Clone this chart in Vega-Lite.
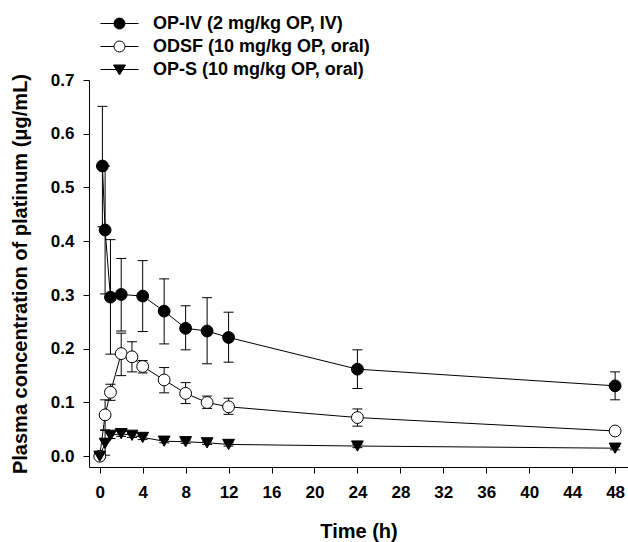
{
  "$schema": "https://vega.github.io/schema/vega-lite/v6.json",
  "width": 539,
  "height": 387,
  "autosize": {"type": "none"},
  "padding": {"left": 89, "top": 80, "right": 0, "bottom": 75},
  "background": "white",
  "data": {
    "values": [
      {"series": "OP-IV (2 mg/kg OP, IV)", "t": 0.25, "v": 0.540, "lo": 0.427, "hi": 0.651},
      {"series": "OP-IV (2 mg/kg OP, IV)", "t": 0.5, "v": 0.421, "lo": 0.302, "hi": 0.540},
      {"series": "OP-IV (2 mg/kg OP, IV)", "t": 1, "v": 0.296, "lo": 0.190, "hi": 0.403},
      {"series": "OP-IV (2 mg/kg OP, IV)", "t": 2, "v": 0.301, "lo": 0.233, "hi": 0.368},
      {"series": "OP-IV (2 mg/kg OP, IV)", "t": 4, "v": 0.298, "lo": 0.232, "hi": 0.364},
      {"series": "OP-IV (2 mg/kg OP, IV)", "t": 6, "v": 0.270, "lo": 0.209, "hi": 0.330},
      {"series": "OP-IV (2 mg/kg OP, IV)", "t": 8, "v": 0.238, "lo": 0.198, "hi": 0.280},
      {"series": "OP-IV (2 mg/kg OP, IV)", "t": 10, "v": 0.233, "lo": 0.172, "hi": 0.295},
      {"series": "OP-IV (2 mg/kg OP, IV)", "t": 12, "v": 0.221, "lo": 0.175, "hi": 0.268},
      {"series": "OP-IV (2 mg/kg OP, IV)", "t": 24, "v": 0.162, "lo": 0.126, "hi": 0.198},
      {"series": "OP-IV (2 mg/kg OP, IV)", "t": 48, "v": 0.131, "lo": 0.105, "hi": 0.157},
      {"series": "ODSF (10 mg/kg OP, oral)", "t": 0, "v": 0.0, "lo": 0.0, "hi": 0.0},
      {"series": "ODSF (10 mg/kg OP, oral)", "t": 0.5, "v": 0.077, "lo": 0.049, "hi": 0.105},
      {"series": "ODSF (10 mg/kg OP, oral)", "t": 1, "v": 0.119, "lo": 0.104, "hi": 0.134},
      {"series": "ODSF (10 mg/kg OP, oral)", "t": 2, "v": 0.191, "lo": 0.150, "hi": 0.229},
      {"series": "ODSF (10 mg/kg OP, oral)", "t": 3, "v": 0.185, "lo": 0.157, "hi": 0.213},
      {"series": "ODSF (10 mg/kg OP, oral)", "t": 4, "v": 0.167, "lo": 0.155, "hi": 0.178},
      {"series": "ODSF (10 mg/kg OP, oral)", "t": 6, "v": 0.142, "lo": 0.118, "hi": 0.165},
      {"series": "ODSF (10 mg/kg OP, oral)", "t": 8, "v": 0.117, "lo": 0.098, "hi": 0.137},
      {"series": "ODSF (10 mg/kg OP, oral)", "t": 10, "v": 0.100, "lo": 0.089, "hi": 0.112},
      {"series": "ODSF (10 mg/kg OP, oral)", "t": 12, "v": 0.092, "lo": 0.078, "hi": 0.108},
      {"series": "ODSF (10 mg/kg OP, oral)", "t": 24, "v": 0.072, "lo": 0.056, "hi": 0.088},
      {"series": "ODSF (10 mg/kg OP, oral)", "t": 48, "v": 0.047, "lo": 0.042, "hi": 0.052},
      {"series": "OP-S (10 mg/kg OP, oral)", "t": 0, "v": 0.0, "lo": 0.0, "hi": 0.0},
      {"series": "OP-S (10 mg/kg OP, oral)", "t": 0.5, "v": 0.024, "lo": 0.002, "hi": 0.048},
      {"series": "OP-S (10 mg/kg OP, oral)", "t": 1, "v": 0.039, "lo": 0.033, "hi": 0.045},
      {"series": "OP-S (10 mg/kg OP, oral)", "t": 2, "v": 0.042, "lo": 0.037, "hi": 0.047},
      {"series": "OP-S (10 mg/kg OP, oral)", "t": 3, "v": 0.039, "lo": 0.035, "hi": 0.043},
      {"series": "OP-S (10 mg/kg OP, oral)", "t": 4, "v": 0.035, "lo": 0.031, "hi": 0.039},
      {"series": "OP-S (10 mg/kg OP, oral)", "t": 6, "v": 0.028, "lo": 0.025, "hi": 0.031},
      {"series": "OP-S (10 mg/kg OP, oral)", "t": 8, "v": 0.027, "lo": 0.024, "hi": 0.030},
      {"series": "OP-S (10 mg/kg OP, oral)", "t": 10, "v": 0.025, "lo": 0.022, "hi": 0.028},
      {"series": "OP-S (10 mg/kg OP, oral)", "t": 12, "v": 0.022, "lo": 0.019, "hi": 0.025},
      {"series": "OP-S (10 mg/kg OP, oral)", "t": 24, "v": 0.019, "lo": 0.016, "hi": 0.022},
      {"series": "OP-S (10 mg/kg OP, oral)", "t": 48, "v": 0.015, "lo": 0.012, "hi": 0.018}
    ]
  },
  "layer": [
    {
      "mark": {"type": "rule", "color": "black", "strokeWidth": 1},
      "encoding": {
        "x": {"field": "t", "type": "quantitative", "scale": {"domain": [-1, 49.2], "nice": false, "zero": false},
              "axis": {"values": [0,4,8,12,16,20,24,28,32,36,40,44,48], "title": "Time (h)", "labelFlush": false, "labelPadding": 11, "titlePadding": 21}},
        "y": {"field": "lo", "type": "quantitative", "scale": {"domain": [-0.02, 0.7], "nice": false, "zero": false},
              "axis": {"values": [0,0.1,0.2,0.3,0.4,0.5,0.6,0.7], "format": ".1f", "title": "Plasma concentration of platinum (μg/mL)", "labelPadding": 9, "titlePadding": 20}},
        "y2": {"field": "hi"}
      }
    },
    {
      "mark": {"type": "tick", "orient": "horizontal", "color": "black", "size": 10, "thickness": 1, "opacity": 1},
      "encoding": {
        "x": {"field": "t", "type": "quantitative"},
        "y": {"field": "lo", "type": "quantitative"}
      }
    },
    {
      "mark": {"type": "tick", "orient": "horizontal", "color": "black", "size": 10, "thickness": 1, "opacity": 1},
      "encoding": {
        "x": {"field": "t", "type": "quantitative"},
        "y": {"field": "hi", "type": "quantitative"}
      }
    },
    {
      "mark": {"type": "line", "color": "black", "strokeWidth": 1},
      "encoding": {
        "x": {"field": "t", "type": "quantitative"},
        "y": {"field": "v", "type": "quantitative"},
        "detail": {"field": "series"}
      }
    },
    {
      "mark": {"type": "point", "filled": true, "stroke": "black", "strokeWidth": 1, "opacity": 1, "size": 140},
      "encoding": {
        "x": {"field": "t", "type": "quantitative"},
        "y": {"field": "v", "type": "quantitative"},
        "fill": {
          "field": "series", "type": "nominal",
          "scale": {"domain": ["OP-IV (2 mg/kg OP, IV)", "ODSF (10 mg/kg OP, oral)", "OP-S (10 mg/kg OP, oral)"], "range": ["black", "white", "black"]},
          "legend": {
            "orient": "none", "legendX": 20, "legendY": -67, "title": null, "padding": 0,
            "labelFont": "Liberation Sans", "labelFontSize": 18, "labelFontWeight": "bold", "labelColor": "black", "labelLimit": 0,
            "symbolSize": 400, "labelOffset": 23, "rowPadding": 3,
            "symbolStrokeColor": "black", "symbolStrokeWidth": 1,
            "encoding": {
              "symbols": {
                "shape": {"value": {"expr": "datum.value === 'OP-S (10 mg/kg OP, oral)' ? 'M-1.9,0L1.9,0M-0.6,-0.45L0.6,-0.45L0,0.55Z' : 'M-1.9,0L-0.55,0M0.55,0A0.55,0.55,0,1,1,-0.55,0A0.55,0.55,0,1,1,0.55,0M0.55,0L1.9,0'"}},
                "stroke": {"value": "black"},
                "strokeWidth": {"value": 1}
              }
            }
          }
        },
        "shape": {
          "field": "series", "type": "nominal",
          "scale": {"domain": ["ODSF (10 mg/kg OP, oral)", "OP-IV (2 mg/kg OP, IV)", "OP-S (10 mg/kg OP, oral)"], "range": ["circle", "circle", "triangle-down"]},
          "legend": null
        }
      }
    }
  ],
  "config": {
    "view": {"stroke": null},
    "axis": {
      "grid": false, "domainColor": "black", "domainWidth": 1, "tickColor": "black", "tickWidth": 1, "tickSize": 6,
      "labelColor": "black", "titleColor": "black",
      "labelFont": "Liberation Sans", "titleFont": "Liberation Sans",
      "labelFontWeight": "bold", "titleFontWeight": "bold",
      "labelFontSize": 17, "titleFontSize": 20
    }
  }
}
